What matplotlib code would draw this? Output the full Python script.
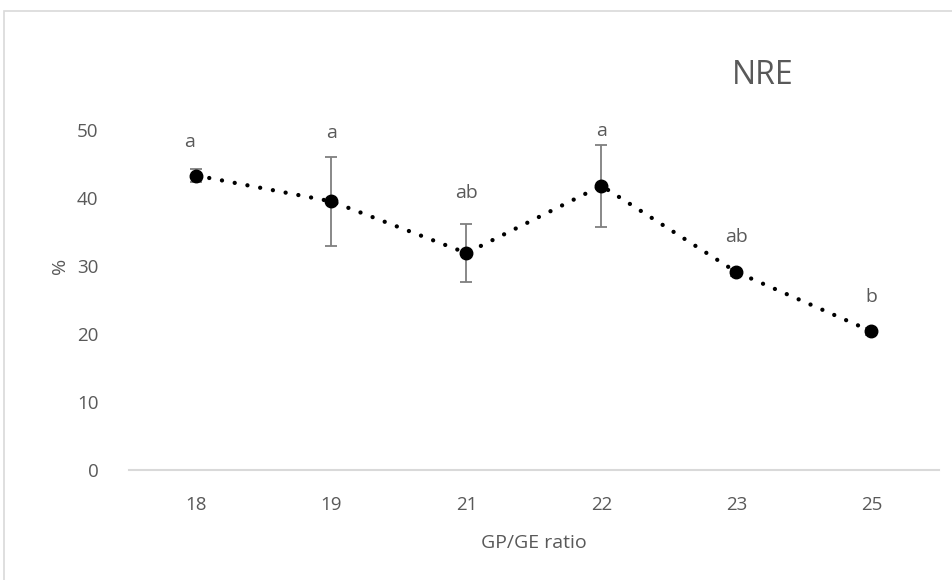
import matplotlib
matplotlib.use('Agg')
from matplotlib import pyplot as plt
from matplotlib.patches import Rectangle

## STYLE ##
plt.rcParams['font.family'] = ['Open Sans', 'DejaVu Sans']
plt.rcParams['font.size'] = 13.5
plt.rcParams['text.color'] = '#595959'
plt.rcParams['axes.labelcolor'] = '#595959'
plt.rcParams['xtick.color'] = '#595959'
plt.rcParams['ytick.color'] = '#595959'

## DATA ##
ratios = ['18', '19', '21', '22', '23', '25']
nre = [43.3, 39.5, 31.9, 41.8, 29.1, 20.4]
nre_err = [0.9, 6.6, 4.3, 6.0, 0.5, 0.5]
letters = ['a', 'a', 'ab', 'a', 'ab', 'b']
letter_y = [48.2, 49.6, 40.7, 49.9, 34.2, 25.4]

fig = plt.figure(figsize=(9.53, 5.8), dpi=100)
ax = fig.add_axes([129 / 953, 110 / 580, 810 / 953, 408 / 580])

x = list(range(len(ratios)))

# dotted connecting line
ax.plot(x, nre, color='black', linewidth=3.1, linestyle=(0, (0.01, 3.0)),
        dash_capstyle='round', zorder=2)
ax.errorbar(x, nre, yerr=nre_err, fmt='none', ecolor='#7f7f7f',
            elinewidth=1.3, capsize=4, capthick=1.3, zorder=3)
ax.plot(x, nre, linestyle='none', marker='o', markersize=9,
        color='black', zorder=4)

for xi, lab, ly in zip(x, letters, letter_y):
    dx = -0.05 if xi == 0 else 0
    ax.text(xi + dx, ly, lab, ha='center', va='center', fontsize=14)

ax.set_xlim(-0.5, len(ratios) - 0.5)
ax.set_ylim(0, 60)
ax.set_yticks(range(0, 51, 10))
ax.set_xticks(x)
ax.set_xticklabels(ratios)

for s in ['top', 'right', 'left']:
    ax.spines[s].set_visible(False)
ax.spines['bottom'].set_color('#d9d9d9')
ax.spines['bottom'].set_linewidth(1.5)
ax.tick_params(axis='both', length=0, labelsize=13.5)
ax.tick_params(axis='x', pad=19)
ax.tick_params(axis='y', pad=22)

ax.set_xlabel('GP/GE ratio', fontsize=14, labelpad=14)
ax.set_ylabel('%', fontsize=14, labelpad=6)

fig.text(763 / 953, 1 - 75 / 580, 'NRE', ha='center', va='center',
         fontsize=23, color='#595959')

# chart area border
fig.patches.append(Rectangle((4 / 953, -0.1), 1.2, 1 - 11 / 580 + 0.1,
                             transform=fig.transFigure, fill=False,
                             edgecolor='#d9d9d9', linewidth=1.2))

plt.savefig('out.png', dpi=100)
